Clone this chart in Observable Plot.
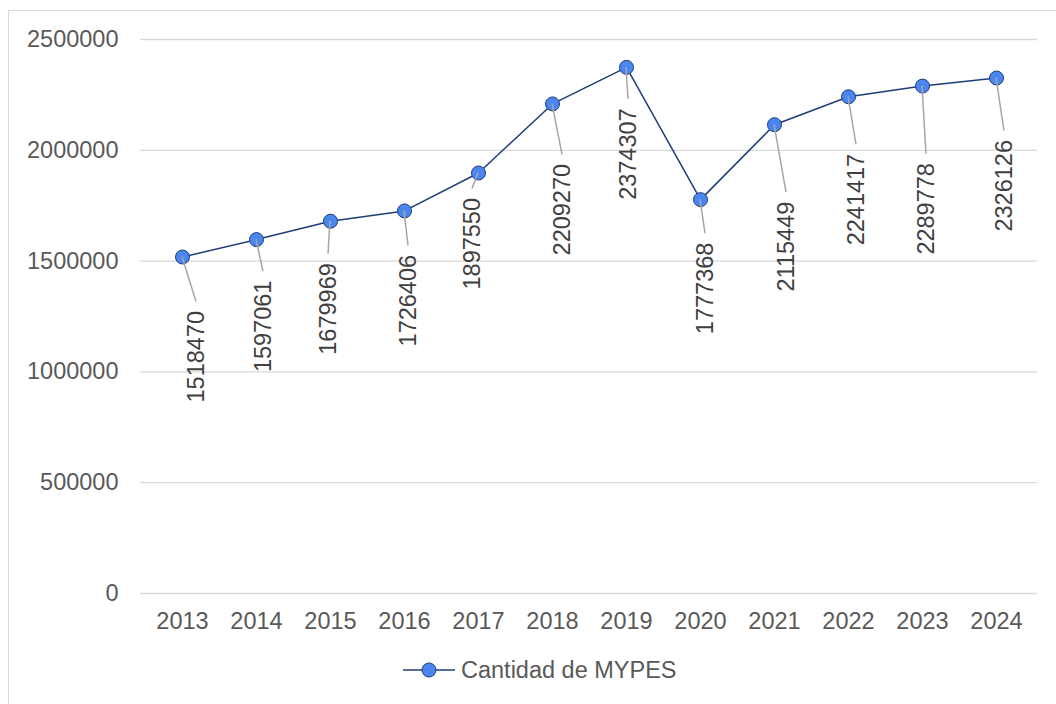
<!DOCTYPE html>
<html>
<head>
<meta charset="utf-8">
<script src="https://cdn.jsdelivr.net/npm/d3@7"></script>
<script src="https://cdn.jsdelivr.net/npm/@observablehq/plot@0.6"></script>
<style>
  html, body { margin: 0; padding: 0; background: #fff; width: 1056px; height: 704px; overflow: hidden; }
  #frame { position: absolute; left: 8px; top: 10px; width: 1100px; height: 800px; border: 1px solid #d9d9d9; box-sizing: border-box; }
  #chart { position: absolute; left: 0; top: 0; }
  #legend { position: absolute; left: 403px; top: 656px; height: 28px; display: flex; align-items: center;
            font-family: "Liberation Sans", Arial, sans-serif; font-size: 23.5px; color: #595959; white-space: nowrap; }
  #legend span { margin-left: 6px; }
</style>
</head>
<body>
<div id="frame"></div>
<div id="chart"></div>
<div id="legend"></div>
<script>
// ---- data ----
const seriesName = "Cantidad de MYPES";
const years = ["2013","2014","2015","2016","2017","2018","2019","2020","2021","2022","2023","2024"];
const values = [1518470,1597061,1679969,1726406,1897550,2209270,2374307,1777368,2115449,2241417,2289778,2326126];
const yTicks = [0,500000,1000000,1500000,2000000,2500000];

// ---- label layout (pixel offsets of each label's top end from its point) ----
const labelDx = [14, 7, -2, 4, -6, 10, 2, 5, 12, 8, 4, 8];
const labelDy = [54, 41, 42, 44, 25, 60, 41, 43, 77, 57, 77, 62];
const leaderGap = 9;

const lineColor = "#1f3c7a";
const dotFill = "#4a86f0";
const data = years.map((yr, i) => ({year: yr, value: values[i]}));

const leaders = (index, scales) => {
  const g = d3.create("svg:g");
  years.forEach((yr, i) => {
    const x = scales.x(yr), y = scales.y(values[i]);
    g.append("line")
      .attr("x1", x).attr("y1", y)
      .attr("x2", x + labelDx[i]).attr("y2", y + labelDy[i] - leaderGap)
      .attr("stroke", "#a6a6a6").attr("stroke-width", 1.5);
  });
  return g.node();
};

const labelMarks = years.map((yr, i) =>
  Plot.text([data[i]], {
    x: "year", y: "value", text: d => String(d.value),
    rotate: -90, textAnchor: "end", dx: labelDx[i], dy: labelDy[i],
    fill: "#404040", fontSize: 23.5
  })
);

const chart = Plot.plot({
  width: 1056,
  height: 640,
  marginLeft: 140,
  marginRight: 19,
  marginTop: 39,
  marginBottom: 47,
  style: {fontFamily: "'Liberation Sans', Arial, sans-serif", fontSize: "23.5px", color: "#595959", background: "transparent"},
  x: {type: "point", domain: years, padding: 0.5, label: null, tickSize: 0, tickPadding: 19},
  y: {domain: [0, 2500000], ticks: yTicks, tickFormat: d => String(d), label: null, tickSize: 0, tickPadding: 22},
  marks: [
    Plot.gridY(yTicks, {stroke: "#d9d9d9", strokeOpacity: 1, strokeWidth: 1.3}),
    Plot.line(data, {x: "year", y: "value", stroke: lineColor, strokeWidth: 1.5}),
    Plot.dot(data, {x: "year", y: "value", r: 7, fill: dotFill, stroke: lineColor, strokeWidth: 1}),
    leaders,
    ...labelMarks
  ]
});
document.getElementById("chart").appendChild(chart);

// ---- legend ----
const legend = d3.select("#legend");
const ls = legend.append("svg").attr("width", 52).attr("height", 28);
ls.append("line").attr("x1", 0).attr("x2", 52).attr("y1", 14).attr("y2", 14).attr("stroke", lineColor).attr("stroke-width", 1.5);
ls.append("circle").attr("cx", 26).attr("cy", 14).attr("r", 7).attr("fill", dotFill).attr("stroke", lineColor).attr("stroke-width", 1);
legend.append("span").text(seriesName);
</script>
</body>
</html>
